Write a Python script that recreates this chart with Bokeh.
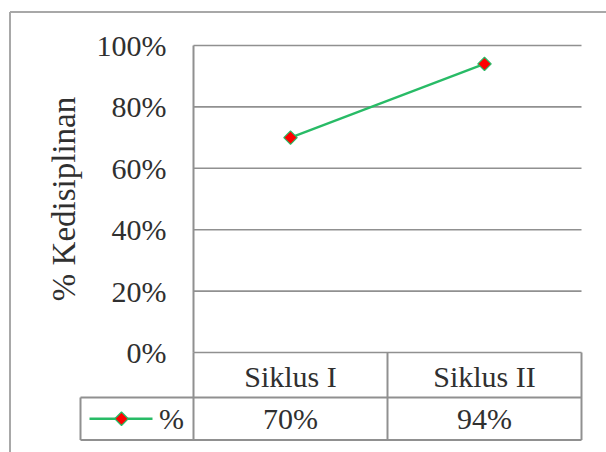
from bokeh.plotting import figure
from bokeh.models import Range1d, FixedTicker, NumeralTickFormatter, LinearAxis
from bokeh.core.properties import value
from bokeh.embed import file_html
from bokeh.resources import INLINE
import numpy as np

# ---- data ----
categories = ["Siklus I", "Siklus II"]
values = [0.70, 0.94]
value_labels = ["70%", "94%"]
series_name = "%"
y_ticks = [0, 0.2, 0.4, 0.6, 0.8, 1.0]
y_title = "% Kedisiplinan"

# ---- style / layout constants ----
FONT = value("Liberation Serif")
FS = "30px"
GRAY = "#909090"
BORDER = "#a8a8a8"
TXT = "#303030"
GREEN = "#28bb66"
RED = "#ff0000"

W, H = 606, 452
PX_X = 194.0          # px per category cell
PX_Y = 307.0          # px per 100 %
ORIG_X = 193.0        # canvas x of the value axis
ORIG_Y = 352.0        # canvas y of the 0 % line

n = len(categories)
x_start = -ORIG_X / PX_X
x_end = (W - ORIG_X) / PX_X
y_end = ORIG_Y / PX_Y
y_start = -(H - ORIG_Y) / PX_Y

p = figure(width=W, height=H, x_range=Range1d(x_start, x_end), y_range=Range1d(y_start, y_end),
           output_backend="svg", toolbar_location=None, title=None,
           x_axis_location=None, y_axis_location=None,
           min_border_left=0, min_border_right=0, min_border_top=0, min_border_bottom=0)
p.grid.visible = False
p.outline_line_color = None

# table geometry (in data units)
head_h = 45 / PX_Y
vals_h = 42.5 / PX_Y
mid = -head_h
bottom = -head_h - vals_h
legend_w = 113 / PX_X

# value axis
ax = LinearAxis(fixed_location=0, ticker=FixedTicker(ticks=y_ticks),
                formatter=NumeralTickFormatter(format="0%"), bounds=(0, 1))
ax.major_tick_out = 0
ax.major_tick_in = 0
ax.minor_tick_out = 0
ax.minor_tick_in = 0
ax.axis_line_color = GRAY
ax.axis_line_width = 2
ax.major_label_standoff = 27
ax.major_label_text_font = "Liberation Serif"
ax.major_label_text_font_size = FS
ax.major_label_text_color = TXT
ax.axis_label = y_title
ax.axis_label_text_font = "Liberation Serif"
ax.axis_label_text_font_size = "33px"
ax.axis_label_text_font_style = "normal"
ax.axis_label_text_color = TXT
ax.axis_label_standoff = 12
p.add_layout(ax, "left")

# gridlines (0 % line doubles as the table top)
p.segment(x0=[0] * len(y_ticks), y0=y_ticks, x1=[n] * len(y_ticks), y1=y_ticks,
          line_color=GRAY, line_width=1.6)

# series
cx = [i + 0.5 for i in range(n)]
p.line(cx, values, line_color=GREEN, line_width=2.3)
p.scatter(cx, values, marker="square", angle=np.pi / 4, size=9.5,
          fill_color=RED, line_color=GREEN, line_width=1.2)

# data table lines
xs, ys = [], []
xs.append([-legend_w, n]); ys.append([mid, mid])
xs.append([-legend_w, n]); ys.append([bottom, bottom])
for i in range(0, n + 1):
    xs.append([i, i]); ys.append([bottom, 0])
xs.append([-legend_w, -legend_w]); ys.append([bottom, mid])
p.multi_line(xs, ys, line_color=GRAY, line_width=2)

p.text(x=cx, y=[mid / 2 - 1 / PX_Y] * n, text=categories, text_align="center",
       text_baseline="middle", text_font=FONT, text_font_size=FS, text_color=TXT)
p.text(x=cx, y=[(mid + bottom) / 2] * n, text=value_labels, text_align="center",
       text_baseline="middle", text_font=FONT, text_font_size=FS, text_color=TXT)

# legend key
ly = (mid + bottom) / 2
p.line(x=[-legend_w + 9 / PX_X, -legend_w + 72 / PX_X], y=[ly, ly], line_color=GREEN, line_width=2.3)
p.scatter(x=[-legend_w + 41 / PX_X], y=[ly], marker="square", angle=np.pi / 4, size=9.5,
          fill_color=RED, line_color=GREEN, line_width=1.2)
p.text(x=[-22 / PX_X], y=[ly], text=[series_name], text_align="center", text_baseline="middle",
       text_font=FONT, text_font_size=FS, text_color=TXT)

# chart-area border (left and top edges visible)
bx = x_start + 9.5 / PX_X
by = y_end - 11.5 / PX_Y
p.multi_line([[bx, bx], [bx, x_end]], [[y_start, by], [by, by]], line_color=BORDER, line_width=2)

open("out.html", "w").write(file_html(p, INLINE))
